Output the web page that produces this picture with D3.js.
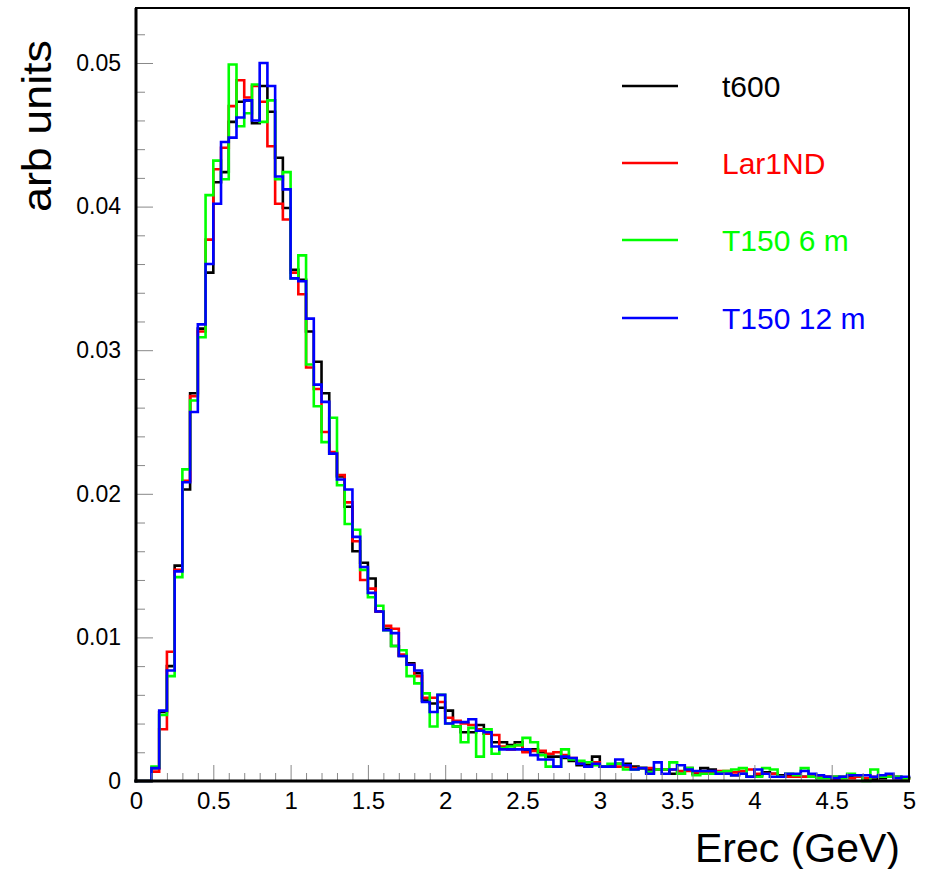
<!DOCTYPE html>
<html>
<head>
<meta charset="utf-8">
<script src="https://cdn.jsdelivr.net/npm/d3@7"></script>
<style>
  html, body { margin: 0; padding: 0; background: #fff; }
  svg { display: block; }
  text { font-family: "Liberation Sans", Arial, Helvetica, sans-serif; }
</style>
</head>
<body>
<svg id="chart" width="927" height="869"></svg>
<script>
// ---- data: 100 bins of width 0.05 GeV from 0 to 5 ----
const binEdges = d3.range(0, 101).map(i => i * 0.05);

const t600 = [
 0,0,0.0009,0.0048,0.0080,0.0150,0.0203,0.0270,0.0315,0.0354,
 0.0417,0.0424,0.0459,0.0473,0.0474,0.0458,0.0484,0.0466,0.0434,0.0399,
 0.0356,0.0349,0.0313,0.0292,0.0270,0.0228,0.0212,0.0191,0.0160,0.0152,
 0.0141,0.0118,0.0106,0.0094,0.0087,0.0082,0.0075,0.0056,0.0054,0.0051,
 0.0049,0.0038,0.0034,0.0034,0.0039,0.0033,0.0027,0.0027,0.0025,0.0027,
 0.0021,0.0022,0.0020,0.0017,0.0017,0.0016,0.0014,0.0011,0.0011,0.0017,
 0.0010,0.0010,0.0012,0.0012,0.0010,0.0009,0.0008,0.0008,0.0008,0.0005,
 0.0005,0.0009,0.0005,0.0009,0.0008,0.0005,0.0005,0.0004,0.0005,0.0003,
 0.0004,0.0006,0.0005,0.0004,0.0004,0.0003,0.0003,0.0003,0.0003,0.0003,
 0.0003,0.0003,0.0003,0.0003,0.0001,0.0001,0.0002,0.0003,0.0003,0.0002
];
const lar1nd = [
 0,0,0.00065,0.0036,0.0090,0.0147,0.0209,0.0268,0.0313,0.0377,
 0.0426,0.0441,0.0470,0.0488,0.0476,0.0484,0.0473,0.0442,0.0402,0.0391,
 0.0354,0.0339,0.0288,0.0273,0.0243,0.0229,0.0213,0.0194,0.0167,0.0140,
 0.0134,0.0118,0.0108,0.0106,0.0088,0.0081,0.0073,0.0058,0.0058,0.0055,
 0.0044,0.0042,0.0040,0.0039,0.0036,0.0033,0.0032,0.0024,0.0022,0.0025,
 0.0020,0.0021,0.0021,0.0019,0.0020,0.0018,0.0016,0.0013,0.0013,0.0013,
 0.0010,0.0010,0.0010,0.0010,0.0009,0.0009,0.0009,0.0008,0.0008,0.0008,
 0.0007,0.0007,0.0006,0.0006,0.0006,0.0007,0.0007,0.0006,0.0007,0.0008,
 0.0005,0.0005,0.0005,0.0003,0.0003,0.0003,0.0003,0.0003,0.0003,0.0003,
 0.0001,0.0002,0.0002,0.0003,0.0002,0.0003,0.0003,0.0004,0.0002,0.0002
];
const t150_6m = [
 0,0,0.0010,0.0046,0.0073,0.0142,0.0217,0.0265,0.0309,0.0408,
 0.0432,0.0419,0.0499,0.0456,0.0465,0.0485,0.0459,0.0474,0.0419,0.0424,
 0.0350,0.0366,0.0290,0.0261,0.0236,0.0253,0.0206,0.0179,0.0175,0.0147,
 0.0128,0.0122,0.0105,0.0094,0.0091,0.0073,0.0068,0.0061,0.0038,0.0060,
 0.0040,0.0038,0.0027,0.0037,0.0017,0.0036,0.0019,0.0023,0.0024,0.0025,
 0.0030,0.0027,0.0018,0.0010,0.0010,0.0022,0.0015,0.0014,0.0013,0.0011,
 0.0010,0.0012,0.0012,0.0008,0.0008,0.0009,0.0006,0.0008,0.0008,0.0013,
 0.0005,0.0009,0.0004,0.0005,0.0005,0.0006,0.0007,0.0008,0.0009,0.0003,
 0.0003,0.0009,0.0008,0.0003,0.0005,0.0004,0.0009,0.0003,0.0002,0.0002,
 0.0003,0.0002,0.0005,0.0004,0.0000,0.0008,0.0003,0.0003,0.0003,0.0002
];
const t150_12m = [
 0,0,0.0009,0.0049,0.0077,0.0146,0.0208,0.0257,0.0318,0.0360,
 0.0402,0.0445,0.0448,0.0462,0.0474,0.0460,0.0500,0.0484,0.0421,0.0412,
 0.0350,0.0348,0.0322,0.0276,0.0264,0.0228,0.0210,0.0203,0.0170,0.0149,
 0.0131,0.0118,0.0105,0.0103,0.0087,0.0081,0.0077,0.0055,0.0048,0.0060,
 0.0040,0.0041,0.0041,0.0043,0.0035,0.0034,0.0024,0.0022,0.0022,0.0022,
 0.0022,0.0018,0.0015,0.0015,0.0010,0.0017,0.0016,0.0012,0.0010,0.0012,
 0.0010,0.0010,0.0015,0.0011,0.0008,0.0009,0.0005,0.0013,0.0005,0.0008,
 0.0011,0.0008,0.0007,0.0007,0.0007,0.0005,0.0005,0.0004,0.0005,0.0003,
 0.0008,0.0005,0.0003,0.0003,0.0005,0.0005,0.0007,0.0005,0.0004,0.0003,
 0.0002,0.0003,0.0004,0.0004,0.0004,0.0003,0.0004,0.0005,0.0002,0.0003
];

const seriesNames = ["t600", "Lar1ND", "T150 6 m", "T150 12 m"];
const seriesColors = ["#000000", "#ff0000", "#00ff00", "#0000ff"];
const seriesValues = [t600, lar1nd, t150_6m, t150_12m];

const xMajorTicks = [0, 0.5, 1, 1.5, 2, 2.5, 3, 3.5, 4, 4.5, 5];
const xTickLabels = ["0", "0.5", "1", "1.5", "2", "2.5", "3", "3.5", "4", "4.5", "5"];
const yMajorTicks = [0, 0.01, 0.02, 0.03, 0.04, 0.05];
const yTickLabels = ["0", "0.01", "0.02", "0.03", "0.04", "0.05"];

// ---- layout ----
const svg = d3.select("#chart");
const L = 136, R = 909, T = 8, B = 781;
const x = d3.scaleLinear().domain([0, 5]).range([L, R]);
const y = d3.scaleLinear().domain([0, 0.05383]).range([B, T]);

// histograms
const line = d3.line()
  .x(d => x(d[0]))
  .y(d => y(d[1]))
  .curve(d3.curveStepAfter);

seriesValues.forEach((vals, si) => {
  const pts = vals.map((v, i) => [binEdges[i], v]);
  pts.push([binEdges[vals.length], vals[vals.length - 1]]);
  svg.append("path")
    .attr("d", line(pts))
    .attr("fill", "none")
    .attr("stroke", seriesColors[si])
    .attr("stroke-width", 2.6)
    .attr("stroke-linejoin", "miter")
    .attr("stroke-linecap", "square");
});

// minor ticks
const xMinor = d3.range(0, 51).map(i => i * 0.1).filter(v => Math.abs(v * 2 - Math.round(v * 2)) > 1e-6);
const yMinor = d3.range(0, 27).map(i => i * 0.002).filter(v => Math.abs(v * 100 - Math.round(v * 100)) > 1e-6);

svg.append("g")
  .attr("transform", `translate(0,${B})`)
  .call(d3.axisBottom(x).tickValues(xMinor).tickSize(-8).tickFormat(""))
  .call(g => g.select(".domain").remove())
  .call(g => g.selectAll("line").attr("stroke", "#888"));

svg.append("g")
  .attr("transform", `translate(${L},0)`)
  .call(d3.axisLeft(y).tickValues(yMinor).tickSize(-9).tickFormat(""))
  .call(g => g.select(".domain").remove())
  .call(g => g.selectAll("line").attr("stroke", "#888"));

// major ticks + labels
svg.append("g")
  .attr("transform", `translate(0,${B})`)
  .call(d3.axisBottom(x).tickValues(xMajorTicks).tickSize(-16).tickPadding(11)
        .tickFormat((d, i) => xTickLabels[i]))
  .call(g => g.select(".domain").remove())
  .call(g => g.selectAll("line").attr("stroke", "#888"))
  .call(g => g.selectAll("text")
        .attr("font-size", 24).attr("fill", "#000")
        .attr("font-family", "'Liberation Sans', Arial, sans-serif"));

svg.append("g")
  .attr("transform", `translate(${L},0)`)
  .call(d3.axisLeft(y).tickValues(yMajorTicks).tickSize(-17).tickPadding(15)
        .tickFormat((d, i) => yTickLabels[i]))
  .call(g => g.select(".domain").remove())
  .call(g => g.selectAll("line").attr("stroke", "#888"))
  .call(g => g.selectAll("text")
        .attr("font-size", 23).attr("fill", "#000")
        .attr("font-family", "'Liberation Sans', Arial, sans-serif"));

// frame
svg.append("rect")
  .attr("x", L).attr("y", T)
  .attr("width", R - L).attr("height", B - T)
  .attr("fill", "none").attr("stroke", "#000").attr("stroke-width", 2);
svg.append("line").attr("x1", L).attr("x2", L).attr("y1", T).attr("y2", B + 1.5)
  .attr("stroke", "#000").attr("stroke-width", 3);
svg.append("line").attr("x1", L - 1.5).attr("x2", R + 1).attr("y1", B).attr("y2", B)
  .attr("stroke", "#000").attr("stroke-width", 3);

// axis titles
svg.append("text")
  .attr("x", 900).attr("y", 862)
  .attr("text-anchor", "end")
  .attr("font-size", 40)
  .attr("textLength", 205)
  .attr("lengthAdjust", "spacingAndGlyphs")
  .attr("fill", "#000")
  .text("Erec (GeV)");

svg.append("text")
  .attr("transform", "translate(51,40) rotate(-90)")
  .attr("text-anchor", "end")
  .attr("font-size", 40)
  .attr("textLength", 172)
  .attr("lengthAdjust", "spacingAndGlyphs")
  .attr("fill", "#000")
  .text("arb units");

// legend
const legY = [86, 163, 240, 318];
const leg = svg.append("g");
seriesNames.forEach((name, i) => {
  leg.append("line")
    .attr("x1", 622).attr("x2", 678)
    .attr("y1", legY[i]).attr("y2", legY[i])
    .attr("stroke", seriesColors[i]).attr("stroke-width", 2.6);
  leg.append("text")
    .attr("x", 722).attr("y", legY[i] + 11)
    .attr("font-size", 30)
    .attr("fill", seriesColors[i])
    .text(name);
});
</script>
</body>
</html>
